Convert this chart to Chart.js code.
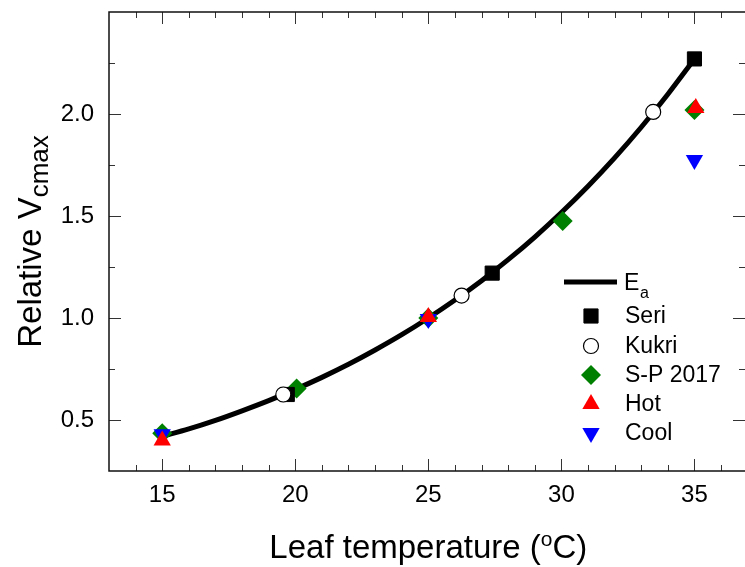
<!DOCTYPE html>
<html lang="en">
<head>
<meta charset="UTF-8">
<title>Relative Vcmax vs leaf temperature</title>
<script src="https://cdn.jsdelivr.net/npm/chart.js"></script>
<style>
  html, body { margin: 0; padding: 0; background: #fff; overflow: hidden; }
  #wrap { position: relative; width: 745px; height: 567px; }
</style>
</head>
<body>
<div id="wrap"><canvas id="chart" width="745" height="567"></canvas></div>
<script>
// Ea fit curve at 1 degree steps
const curveTemps  = [15, 16, 17, 18, 19, 20, 21, 22, 23, 24, 25, 26, 27, 28, 29, 30, 31, 32, 33, 34, 35];
const curveValues = [0.42, 0.456, 0.498, 0.545, 0.595, 0.65, 0.709, 0.773, 0.843, 0.918, 1.0,
                     1.088, 1.183, 1.286, 1.397, 1.517, 1.646, 1.785, 1.935, 2.097, 2.27];

// measured points
const seriTemps   = [19.7, 27.4, 35];
const seriValues  = [0.625, 1.22, 2.27];
const kukriTemps  = [19.55, 26.25, 33.45];
const kukriValues = [0.625, 1.11, 2.01];
const spTemps     = [15, 20.05, 25, 30.05, 35];
const spValues    = [0.435, 0.655, 1.0, 1.475, 2.02];
const hotTemps    = [15, 25, 35.05];
const hotValues   = [0.40, 1.005, 2.03];
const coolTemps   = [15, 25, 35];
const coolValues  = [0.43, 0.995, 1.775];

// axes (the right end of the x axis is cut off by the picture edge)
const xMin = 13, xMax = 36.9;
const yMin = 0.25, yMax = 2.5;
const xTicks = [15, 20, 25, 30, 35];
const xMinor = [14, 16, 17, 18, 19, 21, 22, 23, 24, 26, 27, 28, 29, 31, 32, 33, 34, 36];
const yTicks = [0.5, 1.0, 1.5, 2.0];
const yMinor = [0.75, 1.25, 1.75, 2.25];

const legendNames = ['Seri', 'Kukri', 'S-P 2017', 'Hot', 'Cool'];

const FONT = '"Liberation Sans", Arial, sans-serif';

function pts(xs, ys) {
  return xs.map((x, i) => ({ x: x, y: ys[i] }));
}

const styles = {
  seri:  { pointStyle: 'rect',     radius: 10,  rotation: 0,   fill: '#000000', stroke: '#000000', borderWidth: 1 },
  kukri: { pointStyle: 'circle',   radius: 7.5, rotation: 0,   fill: '#ffffff', stroke: '#000000', borderWidth: 1.2 },
  sp:    { pointStyle: 'rectRot',  radius: 10,  rotation: 0,   fill: '#008000', stroke: '#008000', borderWidth: 0 },
  hot:   { pointStyle: 'triangle', radius: 10,  rotation: 0,   fill: '#ff0000', stroke: '#ff0000', borderWidth: 0 },
  cool:  { pointStyle: 'triangle', radius: 10,  rotation: 180, fill: '#0000ff', stroke: '#0000ff', borderWidth: 0 }
};

function markerSet(label, data, st) {
  return {
    label: label,
    data: data,
    showLine: false,
    pointStyle: st.pointStyle,
    pointRadius: st.radius,
    pointRotation: st.rotation,
    pointBackgroundColor: st.fill,
    pointBorderColor: st.stroke,
    pointBorderWidth: st.borderWidth,
    clip: false
  };
}

// Chart.js reserves room for point overflow on the right; stretch the x axis to the canvas edge
const stretchPlugin = {
  id: 'stretch',
  afterLayout(chart) {
    const xs = chart.scales.x;
    const right = chart.width;
    xs.right = right;
    xs.width = right - xs.left;
    chart.chartArea.right = right;
    chart.chartArea.width = right - chart.chartArea.left;
    xs.configure();
  }
};

// frame, inward ticks, titles and legend
const decorPlugin = {
  id: 'decor',
  afterDraw(chart) {
    const ctx = chart.ctx;
    const a = chart.chartArea;
    const xs = chart.scales.x, ys = chart.scales.y;
    ctx.save();

    // ticks
    ctx.strokeStyle = '#333';
    ctx.lineWidth = 1;
    ctx.beginPath();
    const tickX = (v, len) => {
      const px = Math.round(xs.getPixelForValue(v)) + 0.5;
      ctx.moveTo(px, a.bottom); ctx.lineTo(px, a.bottom - len);
      ctx.moveTo(px, a.top);    ctx.lineTo(px, a.top + len);
    };
    const tickY = (v, len) => {
      const py = Math.round(ys.getPixelForValue(v)) + 0.5;
      ctx.moveTo(a.left, py);  ctx.lineTo(a.left + len, py);
      ctx.moveTo(a.right, py); ctx.lineTo(a.right - len, py);
    };
    xTicks.forEach(v => tickX(v, 12));
    xMinor.forEach(v => tickX(v, 6));
    yTicks.forEach(v => tickY(v, 12));
    yMinor.forEach(v => tickY(v, 6));
    ctx.stroke();

    // frame: left, top, bottom (right side lies past the picture edge)
    ctx.strokeStyle = '#111';
    ctx.lineWidth = 1.5;
    ctx.beginPath();
    ctx.moveTo(a.right, a.top); ctx.lineTo(a.left, a.top);
    ctx.lineTo(a.left, a.bottom); ctx.lineTo(a.right, a.bottom);
    ctx.stroke();

    ctx.fillStyle = '#000';
    ctx.textBaseline = 'alphabetic';

    // x title with superscript o
    const big = '33px ' + FONT, small = '21px ' + FONT;
    const p1 = 'Leaf temperature (', p2 = 'o', p3 = 'C)';
    ctx.font = big;
    const w1 = ctx.measureText(p1).width, w3 = ctx.measureText(p3).width;
    ctx.font = small;
    const w2 = ctx.measureText(p2).width;
    const cx = (a.left + xs.getPixelForValue(37)) / 2;
    let x0 = cx - (w1 + w2 + w3) / 2;
    const base = 558;
    ctx.textAlign = 'left';
    ctx.font = big;  ctx.fillText(p1, x0, base);
    ctx.font = small; ctx.fillText(p2, x0 + w1, base - 12);
    ctx.font = big;  ctx.fillText(p3, x0 + w1 + w2, base);

    // y title with subscript
    const q1 = 'Relative V', q2 = 'cmax';
    const ybig = '33px ' + FONT, ysmall = '26px ' + FONT;
    ctx.font = ybig;
    const v1 = ctx.measureText(q1).width;
    ctx.font = ysmall;
    const v2 = ctx.measureText(q2).width;
    ctx.translate(41, (a.top + a.bottom) / 2);
    ctx.rotate(-Math.PI / 2);
    const s0 = -(v1 + v2) / 2;
    ctx.font = ybig;   ctx.fillText(q1, s0, 0);
    ctx.font = ysmall; ctx.fillText(q2, s0 + v1, 7);
    ctx.setTransform(1, 0, 0, 1, 0, 0);

    // legend
    ctx.strokeStyle = '#000';
    ctx.lineWidth = 5;
    ctx.beginPath();
    ctx.moveTo(564, 282); ctx.lineTo(617, 282);
    ctx.stroke();
    ctx.font = '23px ' + FONT;
    ctx.fillText('E', 624, 290);
    ctx.font = '16px ' + FONT;
    ctx.fillText('a', 640, 298);

    const keys = ['seri', 'kukri', 'sp', 'hot', 'cool'];
    const rowY = [316, 346, 375, 404, 433];
    keys.forEach((k, i) => {
      const st = styles[k];
      ctx.fillStyle = st.fill;
      ctx.strokeStyle = st.stroke;
      ctx.lineWidth = st.borderWidth;
      Chart.helpers.drawPoint(ctx, {
        pointStyle: st.pointStyle, radius: st.radius,
        rotation: st.rotation, borderWidth: st.borderWidth
      }, 591, rowY[i]);
      ctx.fillStyle = '#000';
      ctx.font = '23px ' + FONT;
      ctx.textBaseline = 'middle';
      ctx.fillText(legendNames[i], 625, rowY[i] + 1);
      ctx.textBaseline = 'alphabetic';
    });

    ctx.restore();
  }
};

new Chart(document.getElementById('chart'), {
  type: 'scatter',
  data: {
    datasets: [
      markerSet('Hot', pts(hotTemps, hotValues), styles.hot),
      markerSet('Cool', pts(coolTemps, coolValues), styles.cool),
      markerSet('Kukri', pts(kukriTemps, kukriValues), styles.kukri),
      markerSet('Seri', pts(seriTemps, seriValues), styles.seri),
      markerSet('S-P 2017', pts(spTemps, spValues), styles.sp),
      {
        label: 'Ea',
        data: pts(curveTemps, curveValues),
        showLine: true,
        borderColor: '#000',
        borderWidth: 5,
        pointRadius: 0,
        cubicInterpolationMode: 'monotone'
      }
    ]
  },
  options: {
    responsive: false,
    animation: false,
    layout: { padding: { top: 12, right: 0, left: 0, bottom: 0 } },
    plugins: { legend: { display: false }, tooltip: { enabled: false } },
    scales: {
      x: {
        type: 'linear',
        min: xMin, max: xMax,
        afterBuildTicks: s => { s.ticks = xTicks.map(v => ({ value: v })); },
        afterFit: s => { s.height = 96; s.paddingLeft = 0; s.paddingRight = 0; },
        grid: { display: false, drawTicks: false },
        border: { display: false },
        ticks: {
          color: '#000', padding: 10, maxRotation: 0,
          font: { family: FONT, size: 24 },
          callback: v => String(v)
        }
      },
      y: {
        type: 'linear',
        min: yMin, max: yMax,
        afterBuildTicks: s => { s.ticks = yTicks.map(v => ({ value: v })); },
        afterFit: s => { s.width = 109; s.paddingTop = 0; s.paddingBottom = 0; },
        grid: { display: false, drawTicks: false },
        border: { display: false },
        ticks: {
          color: '#000', padding: 15,
          font: { family: FONT, size: 24 },
          callback: v => Number(v).toFixed(1)
        }
      }
    }
  },
  plugins: [stretchPlugin, decorPlugin]
});
</script>
</body>
</html>
